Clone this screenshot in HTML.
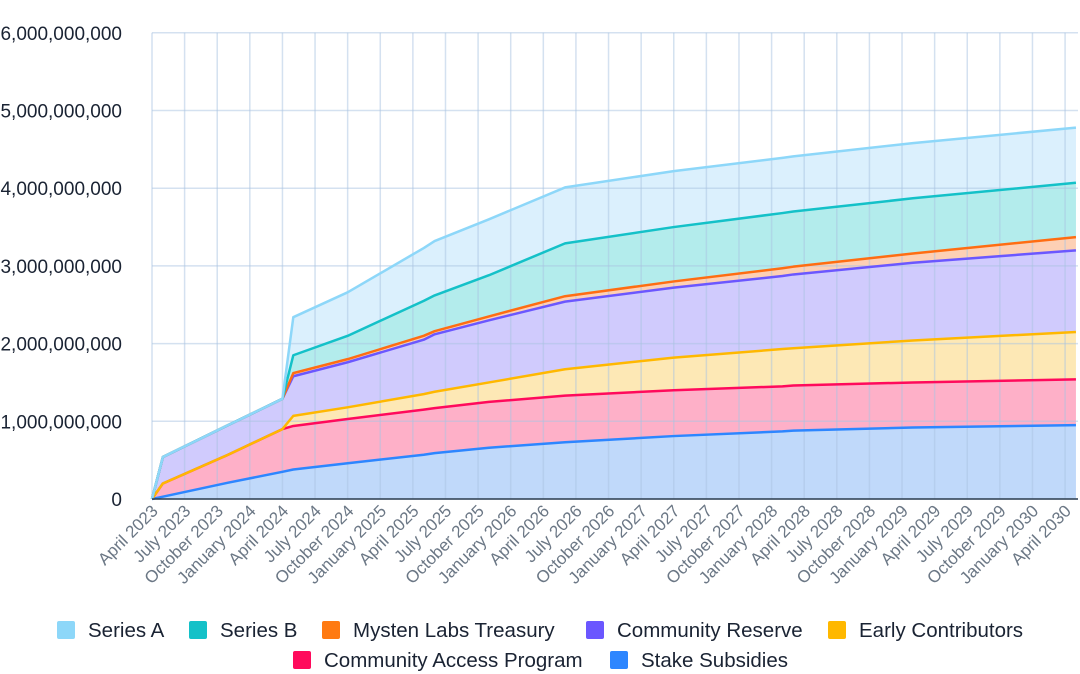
<!DOCTYPE html>
<html><head><meta charset="utf-8"><style>
body{margin:0;background:#fff;width:1080px;height:674px;overflow:hidden;font-family:"Liberation Sans",sans-serif}
.lg{position:absolute;font-size:20.5px;color:#1a2333;white-space:nowrap}
.lg span{display:inline-block;width:18px;height:18px;border-radius:2px;vertical-align:-2px;margin-right:13px}
</style></head><body>
<svg id="chart" width="1080" height="674" style="position:absolute;left:0;top:0"></svg>
<div>
<div class="lg" style="left:57px;top:619px"><span style="background:#8dd7f9"></span>Series A</div>
<div class="lg" style="left:189px;top:619px"><span style="background:#14c1c8"></span>Series B</div>
<div class="lg" style="left:322px;top:619px"><span style="background:#ff7a12"></span>Mysten Labs Treasury</div>
<div class="lg" style="left:586px;top:619px"><span style="background:#6b57ff"></span>Community Reserve</div>
<div class="lg" style="left:828px;top:619px"><span style="background:#ffb800"></span>Early Contributors</div>
<div class="lg" style="left:293px;top:649px"><span style="background:#ff0a5c"></span>Community Access Program</div>
<div class="lg" style="left:610px;top:649px"><span style="background:#2d86ff"></span>Stake Subsidies</div>
</div>
<script>
const months = [0,1,7,12,13,18,25,26,31,38,48,58,59,70,85];
const stakeSubsidies = [0,0.03,0.21,0.35,0.38,0.46,0.57,0.59,0.66,0.73,0.81,0.87,0.88,0.92,0.95];
const communityAccess = [0,0.17,0.36,0.55,0.56,0.57,0.58,0.58,0.59,0.60,0.59,0.58,0.58,0.58,0.59];
const earlyContributors = [0,0,0,0,0.13,0.15,0.20,0.21,0.25,0.34,0.42,0.48,0.48,0.54,0.61];
const communityReserve = [0,0.34,0.38,0.39,0.51,0.58,0.70,0.74,0.80,0.87,0.90,0.94,0.95,1.00,1.05];
const mystenTreasury = [0,0,0,0,0.04,0.04,0.05,0.04,0.05,0.07,0.08,0.10,0.10,0.12,0.17];
const seriesB = [0,0,0,0,0.23,0.30,0.45,0.46,0.53,0.68,0.70,0.71,0.71,0.71,0.70];
const seriesA = [0,0,0,0,0.49,0.56,0.68,0.70,0.72,0.72,0.72,0.71,0.71,0.71,0.71];
const yTicks = [0,1,2,3,4,5,6];
const yTickLabels = ["0","1,000,000,000","2,000,000,000","3,000,000,000","4,000,000,000","5,000,000,000","6,000,000,000"];
const xTickLabels = ["April 2023","July 2023","October 2023","January 2024","April 2024","July 2024","October 2024","January 2025","April 2025","July 2025","October 2025","January 2026","April 2026","July 2026","October 2026","January 2027","April 2027","July 2027","October 2027","January 2028","April 2028","July 2028","October 2028","January 2029","April 2029","July 2029","October 2029","January 2030","April 2030"];

const NS="http://www.w3.org/2000/svg";
const svg=document.getElementById('chart');
const X0=152,X1=1078,Y0=499,PX=10.87,PY=77.7;
const xs=m=>X0+m*PX, ys=v=>Y0-v*PY;
function mk(t,a){const e=document.createElementNS(NS,t);for(const k in a)e.setAttribute(k,a[k]);svg.appendChild(e);return e;}

const series=[
 {n:'stake-subsidies',d:stakeSubsidies,f:'#c0d9fa',s:'#2d86ff'},
 {n:'community-access-program',d:communityAccess,f:'#feb0c8',s:'#ff0a5c'},
 {n:'early-contributors',d:earlyContributors,f:'#fde8b5',s:'#ffb800'},
 {n:'community-reserve',d:communityReserve,f:'#d0cbfd',s:'#6b57ff'},
 {n:'mysten-labs-treasury',d:mystenTreasury,f:'#fdd0b5',s:'#ff6d12'},
 {n:'series-b',d:seriesB,f:'#b3ecec',s:'#14c1c8'},
 {n:'series-a',d:seriesA,f:'#dbf0fd',s:'#8dd7f9'}];
let base=months.map(()=>0);
const tops=[];
series.forEach(s=>{
  const top=base.map((b,i)=>b+s.d[i]);
  let p='M'+months.map((m,i)=>xs(m)+','+ys(top[i])).join('L');
  for(let i=months.length-1;i>=0;i--)p+='L'+xs(months[i])+','+ys(base[i]);
  const a=mk('path',{d:p+'Z',fill:s.f});
  
  
  tops.push({s,top});base=top;
});
yTicks.forEach((v,i)=>{
  const l=mk('line',{x1:X0,x2:X1,y1:ys(v),y2:ys(v),stroke:'rgba(170,195,225,0.5)','stroke-width':1.5});
  
  
  const t=mk('text',{x:122,y:ys(v)+7,'text-anchor':'end','font-size':19,fill:'#1a2333'});
  t.textContent=yTickLabels[i];
  
  
});
xTickLabels.forEach((lab,i)=>{
  const x=xs(i*3);
  const l=mk('line',{x1:x,x2:x,y1:ys(6),y2:Y0,stroke:'rgba(170,195,225,0.5)','stroke-width':1.5});
  
  
  const t=mk('text',{x:x+7,y:Y0+13,'text-anchor':'end','font-size':17,fill:'#6b7785',transform:`rotate(-45 ${x+7} ${Y0+13})`});
  t.textContent=lab;
  
  
});
tops.forEach(o=>{
  const l=mk('polyline',{points:months.map((m,i)=>xs(m)+','+ys(o.top[i])).join(' '),fill:'none',stroke:o.s.s,'stroke-width':2.5,'stroke-linejoin':'round'});
  
  
});
const ax=mk('line',{x1:X0,x2:X1,y1:Y0,y2:Y0,stroke:'#2c3e50','stroke-width':1.5});


</script>
</body></html>
